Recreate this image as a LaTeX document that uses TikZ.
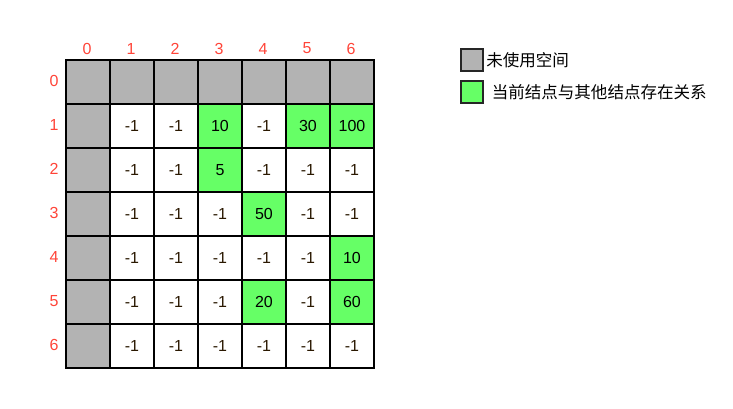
\documentclass[tikz,border=0pt]{standalone}
\usepackage{fontspec}
\setmainfont{Liberation Sans}
\newfontfamily\cjk{Noto Sans CJK SC}
\definecolor{cellgray}{HTML}{B3B3B3}
\definecolor{cellgreen}{HTML}{66FF66}
\definecolor{lblred}{HTML}{FF4438}
\definecolor{numdark}{HTML}{2A1800}
\begin{document}
\begin{tikzpicture}[x=0.75pt,y=-0.75pt,
  cell/.style={draw=black,line width=1.5pt,minimum width=33pt,minimum height=33pt,inner sep=0pt,anchor=north west,font=\fontsize{12}{14}\selectfont},
  grayc/.style={cell,fill=cellgray},
  greenc/.style={cell,fill=cellgreen,text=black},
  whitec/.style={cell,fill=white,text=numdark},
  lbl/.style={text=lblred,font=\fontsize{12}{14}\selectfont,inner sep=0pt},
  legbox/.style={draw=black!85,line width=1.5pt,minimum width=16.5pt,minimum height=16.5pt,inner sep=0pt},
  legtext/.style={font=\cjk\fontsize{12.4}{14}\selectfont,anchor=west,inner sep=0pt}]
\useasboundingbox (0,0) rectangle (733,408);
% row 0 gray
\foreach \c in {0,...,6} \node[grayc] (c0\c) at (65+44*\c,59) {};
% column 0 gray
\foreach \r in {1,...,6} \node[grayc] (c\r0) at (65,59+44*\r) {};
% data
\foreach \r/\vals in {1/{-1,-1,10,-1,30,100},2/{-1,-1,5,-1,-1,-1},3/{-1,-1,-1,50,-1,-1},4/{-1,-1,-1,-1,-1,10},5/{-1,-1,-1,20,-1,60},6/{-1,-1,-1,-1,-1,-1}}{
  \foreach \v [count=\c] in \vals {
    \ifnum\v=-1
      \node[whitec] (c\r\c) at (65+44*\c,59+44*\r) {\v};
    \else
      \node[greenc] (c\r\c) at (65+44*\c,59+44*\r) {\v};
    \fi
  }
}
% labels
\foreach \c in {0,...,6} \node[lbl] (col\c) at (87+44*\c,48.5) {\c};
\foreach \r in {0,...,6} \node[lbl] (row\r) at (54,81+44*\r) {\r};
% legend
\node[legbox,fill=cellgray] (lg1) at (471.5,59.5) {};
\node[legtext] (lt1) at (486,60) {未使用空间};
\node[legbox,fill=cellgreen] (lg2) at (471.5,92) {};
\node[legtext] (lt2) at (491.5,92.5) {当前结点与其他结点存在关系};
\end{tikzpicture}
\end{document}
